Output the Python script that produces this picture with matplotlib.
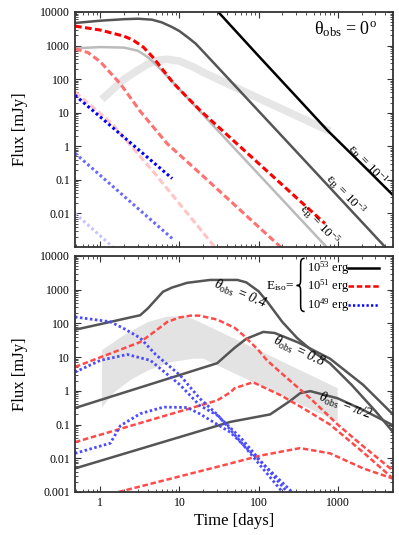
import matplotlib
matplotlib.use("Agg")
import matplotlib.pyplot as plt
from matplotlib.path import Path
from matplotlib.patches import PathPatch
from matplotlib.ticker import FixedLocator, FuncFormatter, LogLocator, NullFormatter

plt.rcParams['font.family'] = ['Liberation Serif', 'DejaVu Serif']
plt.rcParams['mathtext.fontset'] = 'custom'
plt.rcParams['mathtext.rm'] = 'Liberation Serif'
plt.rcParams['mathtext.it'] = 'Liberation Serif:italic'
plt.rcParams['mathtext.bf'] = 'Liberation Serif:bold'

# =========================
# data: top panel (theta_obs = 0)
# =========================
t_eb1 = [20, 31, 100, 300, 740, 2000, 5000]
f_eb1 = [3.1e4, 1e4, 490, 30, 3, 0.3, 0.035]

t_eb3 = [0.48, 1, 2, 3, 4.5, 6, 8, 10, 13, 16, 20, 50, 200, 1000, 5000]
f_eb3 = [4700, 5500, 6100, 6300, 5900, 4900, 3600, 2700, 1700, 1150, 660, 65, 1.95, 0.033, 5.6e-4]

t_eb5 = [0.48, 1, 2, 3, 4, 5, 6, 8, 10, 30, 100, 300, 1000]
f_eb5 = [830, 900, 870, 700, 450, 280, 180, 88, 50, 3.1, 0.148, 0.0092, 4.4e-4]

t_band0 = [1.05, 1.5, 2, 3, 4, 5.5, 7, 10, 15, 20, 100, 800]
f_band0 = [25, 54, 100, 185, 280, 370, 390, 345, 230, 160, 27, 2.8]

t_r51a = [0.48, 1, 2, 2.6, 3.5, 4.7, 6, 8.4, 12, 18.3, 100, 690]
f_r51a = [3800, 2900, 1900, 1450, 900, 430, 207, 76, 32, 11.7, 0.31, 0.005]

t_r51b = [0.48, 0.7, 1, 1.8, 3.2, 7, 18.3, 190]
f_r51b = [800, 620, 330, 72, 11, 1.2, 0.155, 0.001]

t_r51c = [0.48, 1, 1.46, 5, 28]
f_r51c = [41, 9.5, 4.3, 0.145, 0.001]

t_b49a = [0.48, 8.1]
f_b49a = [33, 0.11]
t_b49b = [0.48, 8.1]
f_b49b = [0.62, 0.0018]
t_b49c = [0.48, 1.5]
f_b49c = [0.01, 0.00092]

# =========================
# data: bottom panel (off-axis)
# =========================
t_g04 = [0.48, 1, 2, 3.2, 4, 5, 6.2, 8, 12.5, 24.5, 54, 70, 100, 128, 200, 307, 500, 800, 1500, 3000, 5000]
f_g04 = [65, 95, 137, 175, 280, 500, 870, 1150, 1600, 1950, 1950, 1650, 900, 450, 110, 37, 14, 6.5, 1.5, 0.25, 0.06]

t_g08 = [0.48, 30, 40, 50, 70, 115, 160, 320, 800, 2100, 5000]
f_g08 = [0.31, 6.6, 12, 19, 35, 56, 52, 27, 9, 1.5, 0.2]

t_gpi = [0.48, 44, 140, 250, 335, 450, 1000, 2100, 5000]
f_gpi = [0.005, 0.12, 0.2, 0.5, 0.85, 0.98, 0.6, 0.27, 0.095]

t_r04 = [0.48, 3.2, 5, 7, 10, 13.7, 18, 30, 50, 64, 100, 128, 205, 450, 1000, 2000, 5000]
f_r04 = [5.1, 28, 60, 110, 150, 170, 170, 130, 74, 45, 16, 8, 3, 0.6, 0.1, 0.025, 0.0043]

t_r08 = [0.48, 30, 44, 50, 85, 190, 370, 800, 2100, 5000]
f_r08 = [0.03, 0.52, 0.9, 1.2, 1.8, 0.74, 0.3, 0.1, 0.015, 0.0025]

t_rpi = [1.7, 44, 105, 335, 800, 2100, 5000]
f_rpi = [0.001, 0.007, 0.012, 0.02, 0.014, 0.005, 0.0025]

t_b04 = [0.48, 1.34, 2, 3.2, 5, 10.2, 18, 30, 60, 200]
f_b04 = [155, 112, 70, 37, 12, 2.9, 0.6, 0.2, 0.03, 0.001]

t_b08 = [0.48, 1, 2.2, 4.3, 10.2, 18, 30, 60, 230]
f_b08 = [3.6, 8, 12, 8, 1.5, 0.37, 0.19, 0.04, 0.001]

t_bpi = [0.48, 1.34, 1.8, 3.2, 6.3, 12.5, 18, 44, 265]
f_bpi = [0.014, 0.028, 0.093, 0.21, 0.33, 0.32, 0.21, 0.059, 0.001]

t_band_up = [1.05, 2, 4, 7, 12, 18, 1000]
f_band_up = [16, 45, 110, 160, 165, 110, 1.2]
t_band_lo = [1.05, 1.5, 2.5, 4, 7.6, 15, 20, 1000]
f_band_lo = [0.32, 0.9, 2.2, 4, 7, 9, 9, 0.12]

yticks_top = [0.01, 0.1, 1, 10, 100, 1000, 10000]
yticks_bot = [0.001, 0.01, 0.1, 1, 10, 100, 1000, 10000]
xticks = [1, 10, 100, 1000]

DASH = (0, (2.2, 1.1))
DOT = (0, (0.9, 0.9))


# =========================
# curly brace helper (axes coords)
# =========================
def draw_brace(ax, xtip, xr, ytop, ymid, ybot):
    xm = 0.5 * (xtip + xr)
    c = 0.035
    verts = [(xr, ytop), (xm, ytop), (xm, ytop - c * 0.3), (xm, ytop - c),
             (xm, ymid + c),
             (xm, ymid + c * 0.2), (xm, ymid), (xtip, ymid),
             (xm, ymid), (xm, ymid - c * 0.2), (xm, ymid - c),
             (xm, ybot + c),
             (xm, ybot + c * 0.3), (xm, ybot), (xr, ybot)]
    codes = [Path.MOVETO, Path.CURVE4, Path.CURVE4, Path.CURVE4,
             Path.LINETO,
             Path.CURVE4, Path.CURVE4, Path.CURVE4,
             Path.CURVE4, Path.CURVE4, Path.CURVE4,
             Path.LINETO,
             Path.CURVE4, Path.CURVE4, Path.CURVE4]
    ax.add_patch(PathPatch(Path(verts, codes), transform=ax.transAxes, fill=False,
                           lw=1.1, edgecolor='black', clip_on=False))


# =========================
# figure
# =========================
fig = plt.figure(figsize=(3.99, 5.35), dpi=100)
ax1 = fig.add_axes([0.188, 0.5383, 0.797, 0.4393])
ax2 = fig.add_axes([0.188, 0.0804, 0.797, 0.4411])

# top panel
ax1.plot(t_band0, f_band0, color='#e6e6e6', lw=5.5, solid_capstyle='butt', zorder=1)
ax1.plot(t_eb1, f_eb1, color='black', lw=1.8)
ax1.plot(t_eb3, f_eb3, color='#555555', lw=1.8)
ax1.plot(t_eb5, f_eb5, color='#bbbbbb', lw=1.8)
ax1.plot(t_r51a, f_r51a, color='#ff0000', lw=2.2, ls=DASH)
ax1.plot(t_r51b, f_r51b, color='#ff7070', lw=2.2, ls=DASH)
ax1.plot(t_r51c, f_r51c, color='#ffc4c4', lw=2.2, ls=DASH)
ax1.plot(t_b49a, f_b49a, color='#0000ff', lw=2.2, ls=DOT)
ax1.plot(t_b49b, f_b49b, color='#6a6aff', lw=2.2, ls=DOT)
ax1.plot(t_b49c, f_b49c, color='#c4c4ff', lw=2.2, ls=DOT)

ax1.text(0.852, 0.928, r'θ$_{\rm obs}$ = 0$^{\rm o}$', transform=ax1.transAxes,
         ha='center', va='center', fontsize=13)
ax1.text(0.921, 0.352, r'ε$_{\rm B}$ = 10$^{-1}$', transform=ax1.transAxes,
         ha='center', va='center', fontsize=9.5, rotation=-46)
ax1.text(0.852, 0.224, r'ε$_{\rm B}$ = 10$^{-3}$', transform=ax1.transAxes,
         ha='center', va='center', fontsize=9.5, rotation=-46)
ax1.text(0.770, 0.097, r'ε$_{\rm B}$ = 10$^{-5}$', transform=ax1.transAxes,
         ha='center', va='center', fontsize=9.5, rotation=-46)

# bottom panel
ax2.fill(t_band_up + t_band_lo[::-1], f_band_up + f_band_lo[::-1], color='#e3e3e3', lw=0, zorder=0)
for t, f in [(t_g04, f_g04), (t_g08, f_g08), (t_gpi, f_gpi)]:
    ax2.plot(t, f, color='#555555', lw=1.8)
for t, f in [(t_r04, f_r04), (t_r08, f_r08), (t_rpi, f_rpi)]:
    ax2.plot(t, f, color='#ff4a4a', lw=1.8, ls=DASH)
for t, f in [(t_b04, f_b04), (t_b08, f_b08), (t_bpi, f_bpi)]:
    ax2.plot(t, f, color='#4a4aff', lw=2.0, ls=DOT)

ax2.text(0.519, 0.839, r'$\theta_{\rm obs}$ = 0.4', transform=ax2.transAxes, style='italic',
         ha='center', va='center', fontsize=10, rotation=-22)
ax2.text(0.704, 0.597, r'$\theta_{\rm obs}$ = 0.8', transform=ax2.transAxes, style='italic',
         ha='center', va='center', fontsize=10, rotation=-25)
ax2.text(0.849, 0.364, r'$\theta_{\rm obs}$ = π/2', transform=ax2.transAxes, style='italic',
         ha='center', va='center', fontsize=10, rotation=-20)

# legend with brace
ax2.text(0.690, 0.872, r'E$_{\rm iso}$=', transform=ax2.transAxes, ha='right', va='center', fontsize=9.5)
draw_brace(ax2, 0.697, 0.722, 0.99, 0.875, 0.765)
for yy, lab, col, ls in [(0.949, r'10$^{53}$ erg', 'black', '-'),
                         (0.872, r'10$^{51}$ erg', '#ff0000', DASH),
                         (0.792, r'10$^{49}$ erg', '#0000ff', DOT)]:
    ax2.text(0.730, yy, lab, transform=ax2.transAxes, ha='left', va='center', fontsize=9)
    ax2.plot([0.858, 0.956], [yy, yy], transform=ax2.transAxes, color=col, lw=1.8, ls=ls)

# axes styling
for ax, yt in [(ax1, yticks_top), (ax2, yticks_bot)]:
    ax.set_xscale('log')
    ax.set_yscale('log')
    ax.set_xlim(0.48, 5000)
    ax.set_ylim(0.001, 10000)
    ax.yaxis.set_major_locator(FixedLocator(yt))
    ax.yaxis.set_major_formatter(FuncFormatter(lambda v, p: f'{v:g}'))
    ax.yaxis.set_minor_locator(LogLocator(base=10, subs=range(2, 10), numticks=20))
    ax.yaxis.set_minor_formatter(NullFormatter())
    ax.xaxis.set_major_locator(FixedLocator(xticks))
    ax.xaxis.set_minor_locator(LogLocator(base=10, subs=range(2, 10), numticks=20))
    ax.xaxis.set_minor_formatter(NullFormatter())
    ax.tick_params(which='both', direction='in', top=True, right=True, labelsize=8.5,
                   colors='#333333', labelcolor='black')
    ax.tick_params(which='major', length=4, width=0.8)
    ax.tick_params(which='minor', length=2, width=0.6)
    for s in ax.spines.values():
        s.set_linewidth(1.3)
        s.set_color('#333333')
    ax.set_ylabel('Flux [mJy]', fontsize=12, labelpad=9)

ax1.xaxis.set_major_formatter(NullFormatter())
ax2.xaxis.set_major_formatter(FuncFormatter(lambda v, p: f'{v:g}'))
ax2.set_xlabel('Time [days]', fontsize=12, labelpad=3)

fig.savefig('out.png', dpi=100)
